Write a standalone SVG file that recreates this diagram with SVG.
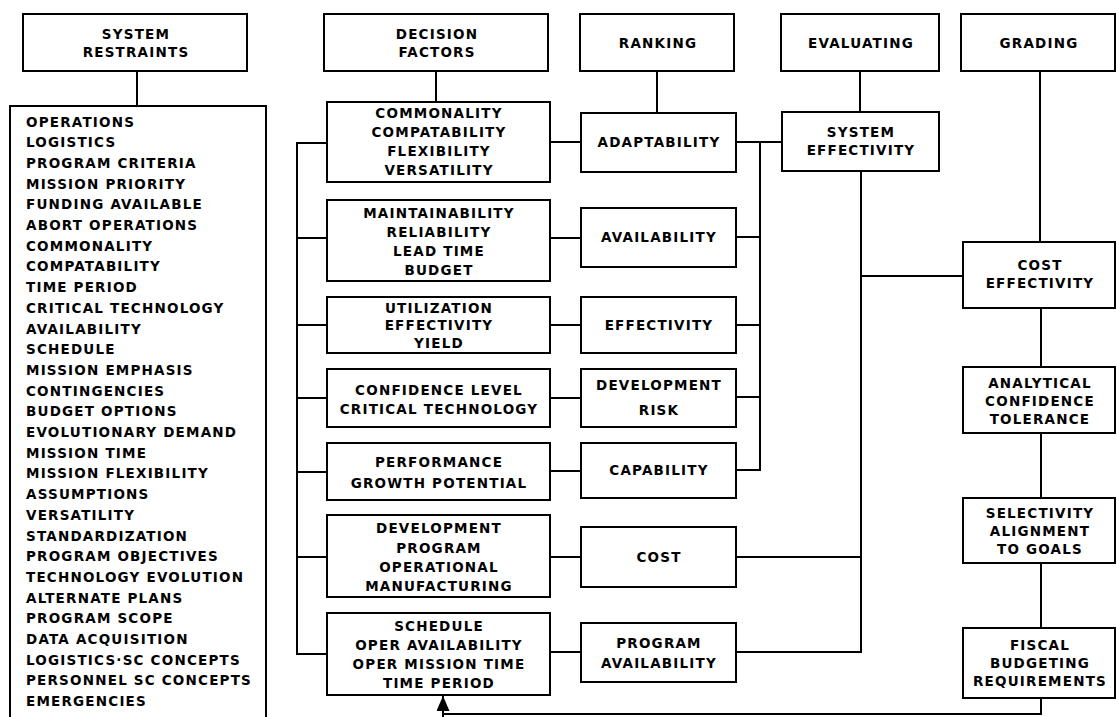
<svg xmlns="http://www.w3.org/2000/svg" width="1117" height="717" viewBox="0 0 1117 717">
  <defs>
    <style>
      .box { fill: #fff; stroke: #000; stroke-width: 2; }
      .wire { fill: none; stroke: #000; stroke-width: 2; }
      .t { font-family: "DejaVu Sans", "Liberation Sans", sans-serif; font-weight: bold; font-size: 13.5px; letter-spacing: 1.2px; fill: #000; text-anchor: middle; }
      .l { text-anchor: start; }
    </style>
    <marker id="arrowHead" viewBox="0 0 15 13" refX="15" refY="6.5" markerWidth="15" markerHeight="13" markerUnits="userSpaceOnUse" orient="auto">
      <path d="M0,0 L15,6.5 L0,13 Z" fill="#000"/>
    </marker>
  </defs>
  <rect width="1117" height="717" fill="#fff"/>

  <!-- connectors -->
  <g id="connectors" class="wire">
    <!-- header drops -->
    <line x1="137" y1="71" x2="137" y2="106"/>
    <line x1="436" y1="71" x2="436" y2="102"/>
    <line x1="657" y1="71" x2="657" y2="113"/>
    <line x1="860" y1="71" x2="860" y2="112"/>
    <line x1="1040" y1="71" x2="1040" y2="242"/>
    <!-- left bus feeding the decision factor boxes -->
    <polyline points="327,143 297,143 297,654 327,654"/>
    <line x1="297" y1="238" x2="327" y2="238"/>
    <line x1="297" y1="325" x2="327" y2="325"/>
    <line x1="297" y1="398" x2="327" y2="398"/>
    <line x1="297" y1="472" x2="327" y2="472"/>
    <line x1="297" y1="557" x2="327" y2="557"/>
    <!-- decision factors to ranking -->
    <line x1="550" y1="142" x2="581" y2="142"/>
    <line x1="550" y1="238" x2="581" y2="238"/>
    <line x1="550" y1="325" x2="581" y2="325"/>
    <line x1="550" y1="398" x2="581" y2="398"/>
    <line x1="550" y1="471" x2="581" y2="471"/>
    <line x1="550" y1="557" x2="581" y2="557"/>
    <line x1="550" y1="652" x2="581" y2="652"/>
    <!-- ranking bus to system effectivity -->
    <polyline points="736,142 782,142"/>
    <polyline points="760,142 760,470 736,470"/>
    <line x1="736" y1="237" x2="760" y2="237"/>
    <line x1="736" y1="325" x2="760" y2="325"/>
    <line x1="736" y1="397" x2="760" y2="397"/>
    <!-- evaluating trunk -->
    <polyline points="861,171 861,652 736,652"/>
    <line x1="736" y1="557" x2="861" y2="557"/>
    <line x1="861" y1="276" x2="963" y2="276"/>
    <!-- grading chain -->
    <line x1="1041" y1="308" x2="1041" y2="367"/>
    <line x1="1041" y1="433" x2="1041" y2="498"/>
    <line x1="1041" y1="563" x2="1041" y2="628"/>
    <!-- feedback to the schedule box -->
    <polyline points="1041,698 1041,714 443,714"/>
    <line x1="443" y1="718" x2="443" y2="696" marker-end="url(#arrowHead)"/>
  </g>

  <!-- column headers -->
  <g id="hdr-restraints">
    <rect class="box" x="23" y="14" width="224" height="57"/>
    <text class="t" x="136" y="38.5">SYSTEM</text>
    <text class="t" x="136" y="56.5">RESTRAINTS</text>
  </g>
  <g id="hdr-factors">
    <rect class="box" x="324" y="14" width="224" height="57"/>
    <text class="t" x="437" y="38.5">DECISION</text>
    <text class="t" x="437" y="56.5">FACTORS</text>
  </g>
  <g id="hdr-ranking">
    <rect class="box" x="580" y="14" width="154" height="57"/>
    <text class="t" x="658" y="47.5">RANKING</text>
  </g>
  <g id="hdr-evaluating">
    <rect class="box" x="781" y="14" width="158" height="57"/>
    <text class="t" x="861" y="47.5">EVALUATING</text>
  </g>
  <g id="hdr-grading">
    <rect class="box" x="961" y="14" width="154" height="57"/>
    <text class="t" x="1039" y="47.5">GRADING</text>
  </g>

  <!-- system restraints list -->
  <g id="restraints-list">
    <rect class="box" x="10" y="106" width="256" height="614"/>
    <text class="t l" x="26" y="126.5">OPERATIONS</text>
    <text class="t l" x="26" y="147.2">LOGISTICS</text>
    <text class="t l" x="26" y="167.9">PROGRAM CRITERIA</text>
    <text class="t l" x="26" y="188.6">MISSION PRIORITY</text>
    <text class="t l" x="26" y="209.3">FUNDING AVAILABLE</text>
    <text class="t l" x="26" y="230.0">ABORT OPERATIONS</text>
    <text class="t l" x="26" y="250.7">COMMONALITY</text>
    <text class="t l" x="26" y="271.4">COMPATABILITY</text>
    <text class="t l" x="26" y="292.1">TIME PERIOD</text>
    <text class="t l" x="26" y="312.8">CRITICAL TECHNOLOGY</text>
    <text class="t l" x="26" y="333.5">AVAILABILITY</text>
    <text class="t l" x="26" y="354.2">SCHEDULE</text>
    <text class="t l" x="26" y="374.9">MISSION EMPHASIS</text>
    <text class="t l" x="26" y="395.6">CONTINGENCIES</text>
    <text class="t l" x="26" y="416.3">BUDGET OPTIONS</text>
    <text class="t l" x="26" y="437.0">EVOLUTIONARY DEMAND</text>
    <text class="t l" x="26" y="457.7">MISSION TIME</text>
    <text class="t l" x="26" y="478.4">MISSION FLEXIBILITY</text>
    <text class="t l" x="26" y="499.1">ASSUMPTIONS</text>
    <text class="t l" x="26" y="519.8">VERSATILITY</text>
    <text class="t l" x="26" y="540.5">STANDARDIZATION</text>
    <text class="t l" x="26" y="561.2">PROGRAM OBJECTIVES</text>
    <text class="t l" x="26" y="581.9">TECHNOLOGY EVOLUTION</text>
    <text class="t l" x="26" y="602.6">ALTERNATE PLANS</text>
    <text class="t l" x="26" y="623.3">PROGRAM SCOPE</text>
    <text class="t l" x="26" y="644.0">DATA ACQUISITION</text>
    <text class="t l" x="26" y="664.7">LOGISTICS·SC CONCEPTS</text>
    <text class="t l" x="26" y="685.4">PERSONNEL SC CONCEPTS</text>
    <text class="t l" x="26" y="706.1">EMERGENCIES</text>
  </g>

  <!-- decision factors -->
  <g id="df-adaptability">
    <rect class="box" x="327" y="102" width="223" height="80"/>
    <text class="t" x="439" y="118">COMMONALITY</text>
    <text class="t" x="439" y="137">COMPATABILITY</text>
    <text class="t" x="439" y="156">FLEXIBILITY</text>
    <text class="t" x="439" y="175">VERSATILITY</text>
  </g>
  <g id="df-availability">
    <rect class="box" x="327" y="200" width="223" height="81"/>
    <text class="t" x="439" y="218">MAINTAINABILITY</text>
    <text class="t" x="439" y="237">RELIABILITY</text>
    <text class="t" x="439" y="256">LEAD TIME</text>
    <text class="t" x="439" y="275">BUDGET</text>
  </g>
  <g id="df-effectivity">
    <rect class="box" x="327" y="297" width="223" height="56"/>
    <text class="t" x="439" y="313">UTILIZATION</text>
    <text class="t" x="439" y="330">EFFECTIVITY</text>
    <text class="t" x="439" y="348">YIELD</text>
  </g>
  <g id="df-risk">
    <rect class="box" x="327" y="369" width="223" height="58"/>
    <text class="t" x="439" y="395">CONFIDENCE LEVEL</text>
    <text class="t" x="439" y="414">CRITICAL TECHNOLOGY</text>
  </g>
  <g id="df-capability">
    <rect class="box" x="327" y="443" width="223" height="57"/>
    <text class="t" x="439" y="467">PERFORMANCE</text>
    <text class="t" x="439" y="488">GROWTH POTENTIAL</text>
  </g>
  <g id="df-cost">
    <rect class="box" x="327" y="515" width="223" height="82"/>
    <text class="t" x="439" y="533">DEVELOPMENT</text>
    <text class="t" x="439" y="553">PROGRAM</text>
    <text class="t" x="439" y="572">OPERATIONAL</text>
    <text class="t" x="439" y="591">MANUFACTURING</text>
  </g>
  <g id="df-program">
    <rect class="box" x="327" y="613" width="223" height="82"/>
    <text class="t" x="439" y="631">SCHEDULE</text>
    <text class="t" x="439" y="650">OPER AVAILABILITY</text>
    <text class="t" x="439" y="669">OPER MISSION TIME</text>
    <text class="t" x="439" y="688">TIME PERIOD</text>
  </g>

  <!-- ranking -->
  <g id="rk-adaptability">
    <rect class="box" x="581" y="113" width="155" height="59"/>
    <text class="t" x="659" y="147">ADAPTABILITY</text>
  </g>
  <g id="rk-availability">
    <rect class="box" x="581" y="208" width="155" height="59"/>
    <text class="t" x="659" y="242">AVAILABILITY</text>
  </g>
  <g id="rk-effectivity">
    <rect class="box" x="581" y="297" width="155" height="56"/>
    <text class="t" x="659" y="330">EFFECTIVITY</text>
  </g>
  <g id="rk-risk">
    <rect class="box" x="581" y="369" width="155" height="58"/>
    <text class="t" x="659" y="390">DEVELOPMENT</text>
    <text class="t" x="659" y="415">RISK</text>
  </g>
  <g id="rk-capability">
    <rect class="box" x="581" y="443" width="155" height="55"/>
    <text class="t" x="659" y="475">CAPABILITY</text>
  </g>
  <g id="rk-cost">
    <rect class="box" x="581" y="527" width="155" height="60"/>
    <text class="t" x="659" y="562">COST</text>
  </g>
  <g id="rk-program">
    <rect class="box" x="581" y="623" width="155" height="59"/>
    <text class="t" x="659" y="648">PROGRAM</text>
    <text class="t" x="659" y="668">AVAILABILITY</text>
  </g>

  <!-- evaluating -->
  <g id="ev-system">
    <rect class="box" x="782" y="112" width="157" height="59"/>
    <text class="t" x="861" y="137">SYSTEM</text>
    <text class="t" x="861" y="155">EFFECTIVITY</text>
  </g>

  <!-- grading -->
  <g id="gr-cost">
    <rect class="box" x="963" y="242" width="152" height="66"/>
    <text class="t" x="1040" y="270">COST</text>
    <text class="t" x="1040" y="288">EFFECTIVITY</text>
  </g>
  <g id="gr-analytical">
    <rect class="box" x="963" y="367" width="152" height="66"/>
    <text class="t" x="1040" y="388">ANALYTICAL</text>
    <text class="t" x="1040" y="406">CONFIDENCE</text>
    <text class="t" x="1040" y="424">TOLERANCE</text>
  </g>
  <g id="gr-selectivity">
    <rect class="box" x="963" y="498" width="152" height="65"/>
    <text class="t" x="1040" y="517.5">SELECTIVITY</text>
    <text class="t" x="1040" y="535.5">ALIGNMENT</text>
    <text class="t" x="1040" y="553.5">TO GOALS</text>
  </g>
  <g id="gr-fiscal">
    <rect class="box" x="963" y="628" width="152" height="70"/>
    <text class="t" x="1040" y="650">FISCAL</text>
    <text class="t" x="1040" y="668">BUDGETING</text>
    <text class="t" x="1040" y="686">REQUIREMENTS</text>
  </g>
</svg>
